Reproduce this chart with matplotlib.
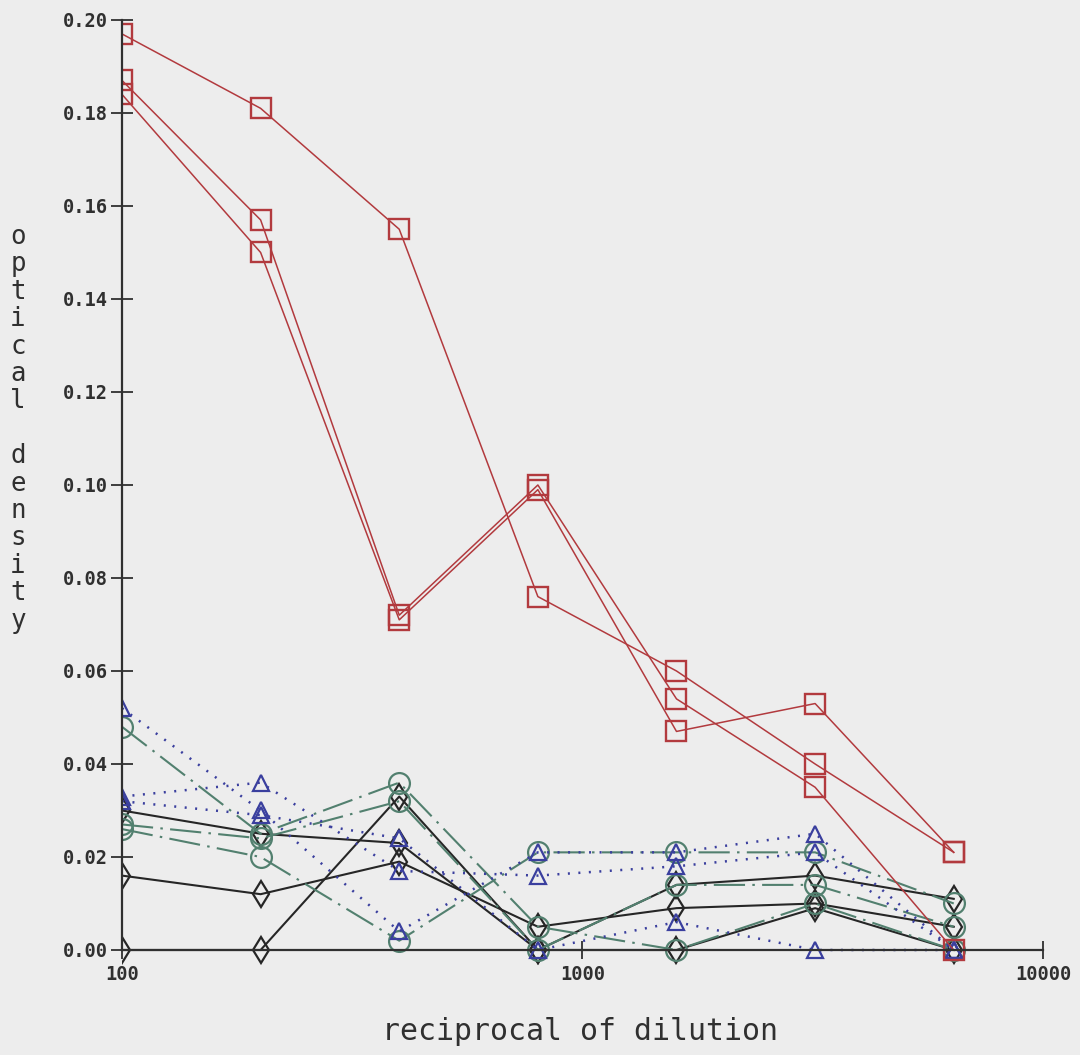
import numpy as np
import matplotlib
matplotlib.use("Agg")
import matplotlib.pyplot as plt
from matplotlib.patches import Rectangle
from matplotlib.ticker import NullLocator, FixedLocator, FixedFormatter

# reciprocal of dilution
dilution = [100, 200, 400, 800, 1600, 3200, 6400]

# optical density readings, one list per sample
red_1 = [0.197, 0.181, 0.155, 0.076, 0.060, 0.040, 0.021]
red_2 = [0.187, 0.157, 0.072, 0.100, 0.054, 0.035, 0.000]
red_3 = [0.184, 0.150, 0.071, 0.099, 0.047, 0.053, 0.021]

blue_1 = [0.052, 0.030, 0.004, 0.021, 0.021, 0.025, 0.000]
blue_2 = [0.033, 0.036, 0.017, 0.016, 0.018, 0.021, 0.000]
blue_3 = [0.032, 0.029, 0.024, 0.000, 0.006, 0.000, 0.000]

green_1 = [0.048, 0.025, 0.036, 0.005, 0.000, 0.010, 0.000]
green_2 = [0.027, 0.024, 0.032, 0.000, 0.014, 0.014, 0.005]
green_3 = [0.026, 0.020, 0.002, 0.021, 0.021, 0.021, 0.010]

black_1 = [0.030, 0.025, 0.023, 0.000, 0.014, 0.016, 0.011]
black_2 = [0.016, 0.012, 0.019, 0.005, 0.009, 0.010, 0.005]
black_3 = [0.000, 0.000, 0.033, 0.000, 0.000, 0.009, 0.000]

y_ticks = [0.00, 0.02, 0.04, 0.06, 0.08, 0.10, 0.12, 0.14, 0.16, 0.18, 0.20]
x_ticks = [100, 1000, 10000]
x_tick_labels = ["100", "1000", "10000"]
x_title = "reciprocal of dilution"
y_title = "optical density"

BG = "#ededed"
AXIS = "#303030"
RED = "#b23a3e"
BLUE = "#3a3f9e"
GREEN = "#52806f"
BLACK = "#262626"
MONO = "DejaVu Sans Mono"

fig = plt.figure(figsize=(10.8, 10.55), dpi=100, facecolor=BG)
ax = fig.add_axes([0.11296, 0.09953, 0.85278, 0.88152])
ax.set_facecolor(BG)
ax.set_xscale("log")
ax.set_xlim(100, 10000)
ax.set_ylim(0, 0.20)

# clip at the left axis only; markers sitting on zero stay whole
clip = Rectangle((0, -0.05), 1.1, 1.1, transform=ax.transAxes)

styles = {
    "black": dict(color=BLACK, marker="d", ms=13, mfc="none", mec=BLACK, mew=1.6,
                  lw=1.5, ls="-"),
    "green": dict(color=GREEN, marker="o", ms=15, mfc="none", mec=GREEN, mew=1.6,
                  lw=1.5, ls=(0, (15, 3.5, 1.2, 3.5))),
    "blue": dict(color=BLUE, marker="^", ms=11, mfc="none", mec=BLUE, mew=1.6,
                 lw=1.8, ls=(0, (0.8, 3.4))),
    "red": dict(color=RED, marker="s", ms=14, mfc="none", mec=RED, mew=1.7,
                lw=1.1, ls="-"),
}

groups = [
    ("black", [black_1, black_2, black_3]),
    ("green", [green_1, green_2, green_3]),
    ("blue", [blue_1, blue_2, blue_3]),
    ("red", [red_1, red_2, red_3]),
]
for z, (name, series) in enumerate(groups):
    for values in series:
        (ln,) = ax.plot(dilution, values, zorder=3 + z, **styles[name])
        ln.set_clip_path(clip)

for side in ("top", "right"):
    ax.spines[side].set_visible(False)
for side in ("left", "bottom"):
    ax.spines[side].set_color(AXIS)
    ax.spines[side].set_linewidth(1.6)
    ax.spines[side].set_zorder(10)

ax.yaxis.set_major_locator(FixedLocator(y_ticks))
ax.yaxis.set_major_formatter(FixedFormatter([f"{v:.2f}" for v in y_ticks]))
ax.xaxis.set_major_locator(FixedLocator(x_ticks))
ax.xaxis.set_major_formatter(FixedFormatter(x_tick_labels))
ax.xaxis.set_minor_locator(NullLocator())
ax.yaxis.set_minor_locator(NullLocator())

ax.tick_params(axis="y", direction="inout", length=16, width=1.3, pad=2,
               color=AXIS, labelcolor=AXIS)
ax.tick_params(axis="x", direction="inout", length=13, width=1.3, pad=4,
               color=AXIS, labelcolor=AXIS)
for lab in ax.get_xticklabels() + ax.get_yticklabels():
    lab.set_family(MONO)
    lab.set_fontweight("bold")
    lab.set_fontsize(13.5)

# x title
fig.text(580 / 1080, 1 - 1040 / 1055, x_title, family=MONO, fontsize=21.5,
         color=AXIS, ha="center", va="baseline")

# y title, one upright letter per line
W, H = 1080, 1055
for i, ch in enumerate(y_title):
    if ch == " ":
        continue
    base = 244 + i * 27.4
    fig.text(18 / W, 1 - base / H, ch, family=MONO, fontsize=18.5,
             color=AXIS, ha="center", va="baseline")

fig.savefig("out.png", dpi=100, facecolor=BG)
